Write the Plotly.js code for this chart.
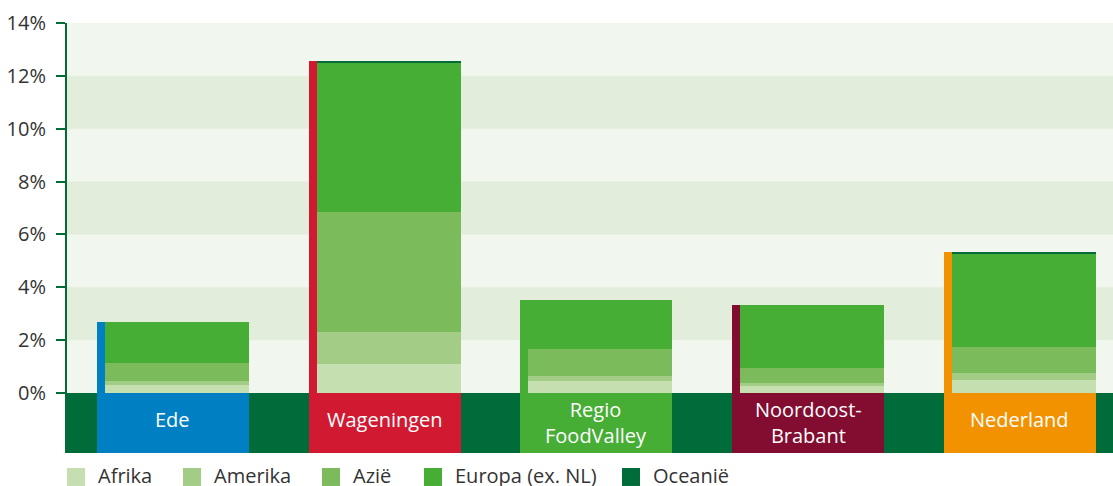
<!DOCTYPE html>
<html>
<head>
<meta charset="utf-8">
<script src="https://cdn.plot.ly/plotly-3.0.1.min.js"></script>
<style>
  html, body { margin: 0; padding: 0; background: #ffffff; }
  #chart { width: 1113px; height: 486px; }
</style>
</head>
<body>
<div id="chart"></div>
<script>
// ---- Data ----
const categories = ['Ede', 'Wageningen', 'Regio FoodValley', 'Noordoost-Brabant', 'Nederland'];
const categoryLabels = ['Ede', 'Wageningen', 'Regio<br>FoodValley', 'Noordoost-<br>Brabant', 'Nederland'];
const categoryColors = ['#0080c3', '#d11a31', '#46ad35', '#830c31', '#f39200'];

const seriesNames = ['Afrika', 'Amerika', 'Azië', 'Europa (ex. NL)', 'Oceanië'];
const seriesColors = ['#c5dfb0', '#a3cd87', '#7bbb5b', '#46ad35', '#006c3a'];

const afrika  = [0.30, 1.10, 0.45, 0.27, 0.49];
const amerika = [0.15, 1.21, 0.19, 0.11, 0.27];
const azie    = [0.68, 4.55, 1.02, 0.57, 0.98];
const europa  = [1.55, 5.64, 1.85, 2.37, 3.52];
const oceanie = [0.01, 0.08, 0.01, 0.01, 0.08];

const yTicks = [0, 2, 4, 6, 8, 10, 12, 14];
const yTickLabels = ['0%', '2%', '4%', '6%', '8%', '10%', '12%', '14%'];

// ---- Layout params ----
const W = 1113, H = 486;
const M = { l: 67, r: 0, t: 22.5, b: 33 };
const plotW = W - M.l - M.r, plotH = H - M.t - M.b;
const yMin = -2.27, yMax = 14;
const boxW = 0.718, stripW = 0.0378;
const font = '"Open Sans", "Noto Sans", sans-serif';
const textColor = '#333333';
const axisGreen = '#006c3a';

const seriesValues = [afrika, amerika, azie, europa, oceanie];
const totals = categories.map((c, i) => seriesValues.reduce((s, arr) => s + arr[i], 0));

const traces = [];
// stacked segments (bases accumulated from the data)
let running = categories.map(() => 0);
seriesValues.forEach((vals, k) => {
  traces.push({
    type: 'bar', x: categories, y: vals, base: running.slice(),
    width: boxW - stripW, offset: -boxW / 2 + stripW,
    marker: { color: seriesColors[k], line: { width: 0 } },
    name: seriesNames[k], showlegend: false, hoverinfo: 'skip'
  });
  running = running.map((b, i) => b + vals[i]);
});
// coloured strip on the left of each bar
traces.push({
  type: 'bar', x: categories, y: totals, base: 0,
  width: stripW, offset: -boxW / 2,
  marker: { color: categoryColors, line: { width: 0 } },
  showlegend: false, hoverinfo: 'skip'
});
// label boxes below zero
traces.push({
  type: 'bar', x: categories, y: categories.map(() => -yMin), base: yMin,
  width: boxW, offset: -boxW / 2,
  marker: { color: categoryColors, line: { width: 0 } },
  showlegend: false, hoverinfo: 'skip'
});

const shapes = [];
// alternating background bands
for (let v = 2; v < yMax; v += 4) {
  shapes.push({ type: 'rect', xref: 'paper', yref: 'y', x0: 0, x1: 1, y0: v, y1: v + 2,
    fillcolor: '#e2eedb', line: { width: 0 }, layer: 'below' });
}
// dark band below zero
shapes.push({ type: 'rect', xref: 'paper', yref: 'y', x0: 0, x1: 1, y0: yMin, y1: 0,
  fillcolor: axisGreen, line: { width: 0 }, layer: 'below' });

const annotations = [];
categories.forEach((c, i) => {
  const twoLine = categoryLabels[i].indexOf('<br>') >= 0;
  annotations.push({ x: c, y: yMin / 2, xref: 'x', yref: 'y', text: categoryLabels[i],
    showarrow: false, xanchor: 'center', yanchor: 'middle', yshift: twoLine ? 1 : 4,
    font: { family: font, size: 20, color: '#ffffff' } });
});

// custom legend
const px2x = px => (px - M.l) / plotW;
const px2y = py => (H - M.b - py) / plotH;
const legendX = [67, 183, 322, 424, 622];
const sq = 18, legTop = 468;
seriesNames.forEach((n, k) => {
  shapes.push({ type: 'rect', xref: 'paper', yref: 'paper',
    x0: px2x(legendX[k]), x1: px2x(legendX[k] + sq),
    y0: px2y(legTop + sq), y1: px2y(legTop),
    fillcolor: seriesColors[k], line: { width: 0 } });
  annotations.push({ xref: 'paper', yref: 'paper', x: px2x(legendX[k] + 30), y: px2y(legTop + 8),
    text: n, showarrow: false, xanchor: 'left', yanchor: 'middle', borderpad: 0,
    font: { family: font, size: 20, color: textColor } });
});

const layout = {
  width: W, height: H,
  margin: M,
  paper_bgcolor: '#ffffff',
  plot_bgcolor: '#f1f6ee',
  barmode: 'overlay',
  bargap: 0,
  showlegend: false,
  font: { family: font, size: 20, color: textColor },
  xaxis: {
    type: 'category', range: [-0.5, 4.44],
    showticklabels: false, ticks: '', showgrid: false, zeroline: false, showline: false,
    fixedrange: true
  },
  yaxis: {
    range: [yMin, yMax], tickvals: yTicks, ticktext: yTickLabels,
    ticks: 'outside', ticklen: 9, tickwidth: 2, tickcolor: axisGreen,
    showline: true, linecolor: axisGreen, linewidth: 2,
    showgrid: false, zeroline: false, ticklabelstandoff: 6,
    tickfont: { family: font, size: 20, color: textColor },
    fixedrange: true
  },
  shapes: shapes,
  annotations: annotations
};

Plotly.newPlot('chart', traces, layout, { displayModeBar: false, staticPlot: true });
</script>
</body>
</html>
